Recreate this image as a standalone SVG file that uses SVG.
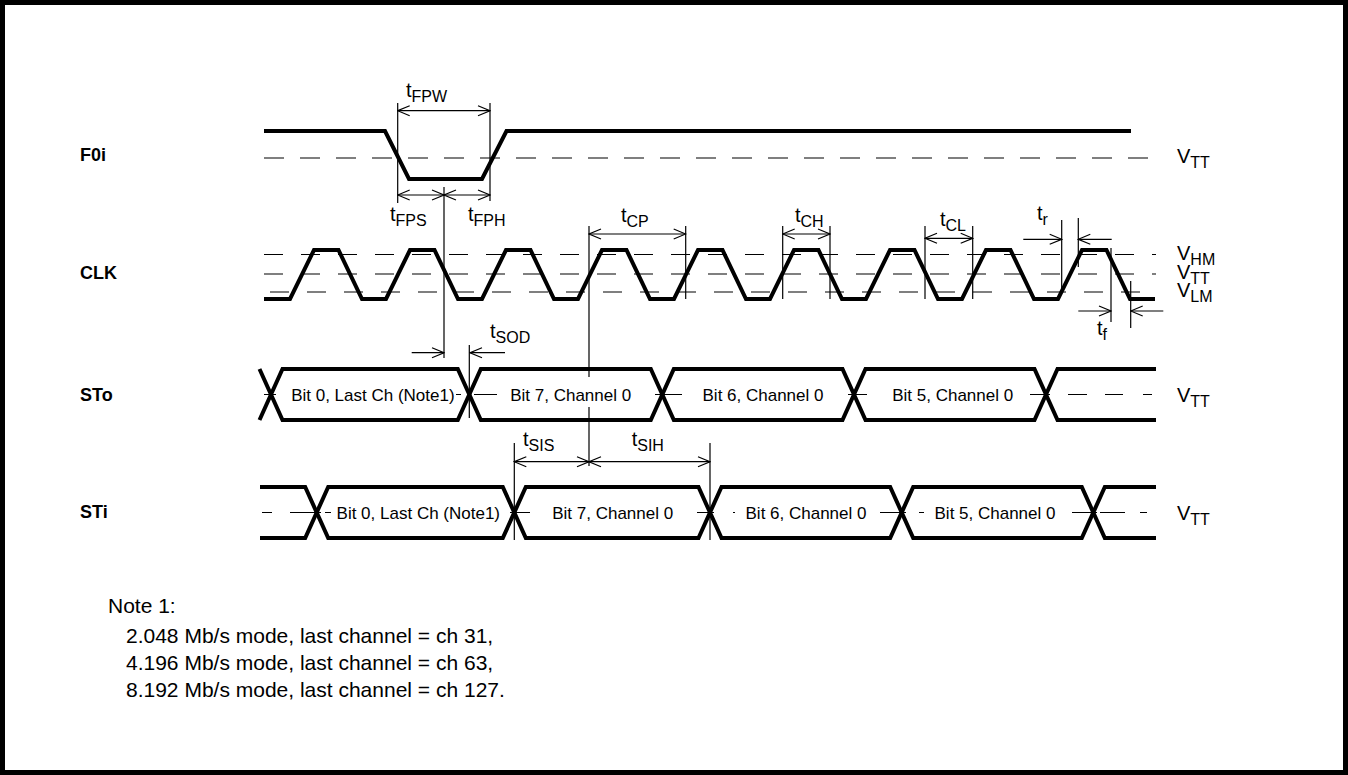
<svg xmlns="http://www.w3.org/2000/svg" width="1348" height="775" viewBox="0 0 1348 775">
<style>
.w{fill:none;stroke:#000;stroke-width:4;stroke-linejoin:miter}
.t{fill:none;stroke:#000;stroke-width:1.2}
.d{fill:none;stroke:#000;stroke-width:1.2;stroke-dasharray:19 18}
.a{fill:none;stroke:#000;stroke-width:1.2;marker-end:url(#ah)}
.aa{fill:none;stroke:#000;stroke-width:1.2;marker-start:url(#ah);marker-end:url(#ah)}
text{font-family:"Liberation Sans",Arial,sans-serif;fill:#000}
.lbl{font-size:18px;font-weight:bold}
.bt{font-size:17px;text-anchor:middle}
.tm{font-size:20px}
.sb{font-size:16px}
.nt{font-size:21px}
</style>
<defs>
<marker id="ah" viewBox="-13 -7 14 14" refX="0" refY="0" markerWidth="14" markerHeight="14" markerUnits="userSpaceOnUse" orient="auto-start-reverse">
<path d="M-12,-5 L0,0 L-12,5" fill="none" stroke="#000" stroke-width="1.2"/>
</marker>
</defs>
<rect x="0" y="0" width="1348" height="775" fill="#fff"/>
<rect x="2.5" y="2.5" width="1343" height="770" fill="none" stroke="#000" stroke-width="5"/>

<g id="F0i">
<text class="lbl" x="80" y="161">F0i</text>
<path class="d" style="stroke-dasharray:20 16" d="M264,158 L1154,158"/>
<path class="w" d="M264,131 L385,131 L409,179 L482,179 L506.5,131 L1131,131"/>
<text class="tm" x="1177" y="163">V<tspan class="sb" dy="5">TT</tspan></text>
</g>

<g id="CLK">
<text class="lbl" x="80" y="279">CLK</text>
<path class="d" d="M264,254.5 L1156,254.5"/>
<path class="d" d="M264,274 L1156,274"/>
<path class="d" d="M270,292 L1158,292"/>
<path class="w" d="M264,299 L290,299 L314,250 L338.5,250 L362,299 L386,299 L410,250 L434.5,250 L458,299 L482,299 L506,250 L530.5,250 L554,299 L578,299 L602,250 L626.5,250 L650,299 L674,299 L698,250 L722.5,250 L746,299 L770,299 L794,250 L818.5,250 L842,299 L866,299 L890,250 L914.5,250 L938,299 L962,299 L986,250 L1010.5,250 L1034,299 L1058,299 L1082,250 L1106.5,250 L1130,299 L1155,299"/>
<text class="tm" x="1177" y="260">V<tspan class="sb" dy="5">HM</tspan></text>
<text class="tm" x="1177" y="279">V<tspan class="sb" dy="5">TT</tspan></text>
<text class="tm" x="1177" y="297">V<tspan class="sb" dy="5">LM</tspan></text>
</g>

<g id="connectors">
<path class="t" d="M397.7,103 V203 M490,103 V201 M444,187 V358 M469.3,345 V418 M589,226 V377 M589,407 V466 M685.7,226 V299 M782.7,226 V299 M830,226 V299 M925,226 V299 M972.7,226 V299 M1061.7,220 V293 M1078.3,218 V267 M1111,248 V322 M1130.7,281 V328 M514.3,443 V540 M710,443 V540"/>
<path class="aa" d="M397.7,110.7 H490"/>
<path class="aa" d="M397.7,195 H444"/>
<path class="aa" d="M444,195 H490"/>
<path class="a" d="M411.7,352.7 H444"/>
<path class="a" d="M505,352.7 H470"/>
<path class="aa" d="M589,234 H685.7"/>
<path class="aa" d="M782.7,234 H830"/>
<path class="aa" d="M925,238.3 H972.7"/>
<path class="a" d="M1023.3,239.3 H1061.7"/>
<path class="a" d="M1111.7,239.3 H1078.3"/>
<path class="a" d="M1078.3,311 H1111"/>
<path class="a" d="M1163.3,311 H1130.7"/>
<path class="aa" d="M514.3,461.7 H589"/>
<path class="aa" d="M589,461.7 H710"/>
<text class="tm" x="406" y="97">t<tspan class="sb" dy="5">FPW</tspan></text>
<text class="tm" x="390" y="221">t<tspan class="sb" dy="5">FPS</tspan></text>
<text class="tm" x="468" y="221">t<tspan class="sb" dy="5">FPH</tspan></text>
<text class="tm" x="621" y="222">t<tspan class="sb" dy="5">CP</tspan></text>
<text class="tm" x="795" y="222">t<tspan class="sb" dy="5">CH</tspan></text>
<text class="tm" x="940" y="226">t<tspan class="sb" dy="5">CL</tspan></text>
<text class="tm" x="1037" y="220">t<tspan class="sb" dy="5">r</tspan></text>
<text class="tm" x="1097" y="335">t<tspan class="sb" dy="5">f</tspan></text>
<text class="tm" x="490" y="338">t<tspan class="sb" dy="5">SOD</tspan></text>
<text class="tm" x="523" y="446">t<tspan class="sb" dy="5">SIS</tspan></text>
<text class="tm" x="631.7" y="446">t<tspan class="sb" dy="5">SIH</tspan></text>
</g>

<g id="STo">
<text class="lbl" x="80" y="401">STo</text>
<path class="t" d="M264,394.5 H276 M456,394.5 H461 M474,394.5 H497 M655,394.5 H682 M848,394.5 H867 M1030,394.5 H1050 M1068,394.5 H1087 M1105,394.5 H1123 M1143,394.5 H1152"/>
<path class="w" d="M259.5,369 L282.5,420 L457.8,420 L480.8,369 L650.8,369 L673.8,420 L842.5,420 L865.5,369 L1034.5,369 L1057.5,420 L1156,420"/>
<path class="w" d="M259.5,420 L282.5,369 L457.8,369 L480.8,420 L650.8,420 L673.8,369 L842.5,369 L865.5,420 L1034.5,420 L1057.5,369 L1156,369"/>
<text class="bt" x="372.9" y="400.5">Bit 0, Last Ch (Note1)</text>
<text class="bt" x="570.7" y="400.5">Bit 7, Channel 0</text>
<text class="bt" x="763" y="400.5">Bit 6, Channel 0</text>
<text class="bt" x="952.7" y="400.5">Bit 5, Channel 0</text>
<text class="tm" x="1177" y="401.5">V<tspan class="sb" dy="5">TT</tspan></text>
</g>

<g id="STi">
<text class="lbl" x="80" y="518">STi</text>
<path class="t" d="M262,512.5 H272 M290,512.5 H321 M325,512.5 H331 M510,512.5 H530 M697,512.5 H714 M733,512.5 H735 M880,512.5 H906 M919,512.5 H924 M1072,512.5 H1097 M1100,512.5 H1125 M1140,512.5 H1147"/>
<path class="w" d="M260,487 L305.2,487 L328.2,538 L502.8,538 L525.8,487 L698.5,487 L721.5,538 L890.2,538 L913.2,487 L1081.8,487 L1104.8,538 L1156,538"/>
<path class="w" d="M260,538 L305.2,538 L328.2,487 L502.8,487 L525.8,538 L698.5,538 L721.5,487 L890.2,487 L913.2,538 L1081.8,538 L1104.8,487 L1156,487"/>
<text class="bt" x="418.3" y="518.5">Bit 0, Last Ch (Note1)</text>
<text class="bt" x="612.7" y="518.5">Bit 7, Channel 0</text>
<text class="bt" x="806" y="518.5">Bit 6, Channel 0</text>
<text class="bt" x="995" y="518.5">Bit 5, Channel 0</text>
<text class="tm" x="1177" y="520">V<tspan class="sb" dy="5">TT</tspan></text>
</g>

<g id="note">
<text class="nt" x="108" y="613">Note 1:</text>
<text class="nt" x="126" y="643">2.048 Mb/s mode, last channel = ch 31,</text>
<text class="nt" x="126" y="670">4.196 Mb/s mode, last channel = ch 63,</text>
<text class="nt" x="126" y="697">8.192 Mb/s mode, last channel = ch 127.</text>
</g>
</svg>
